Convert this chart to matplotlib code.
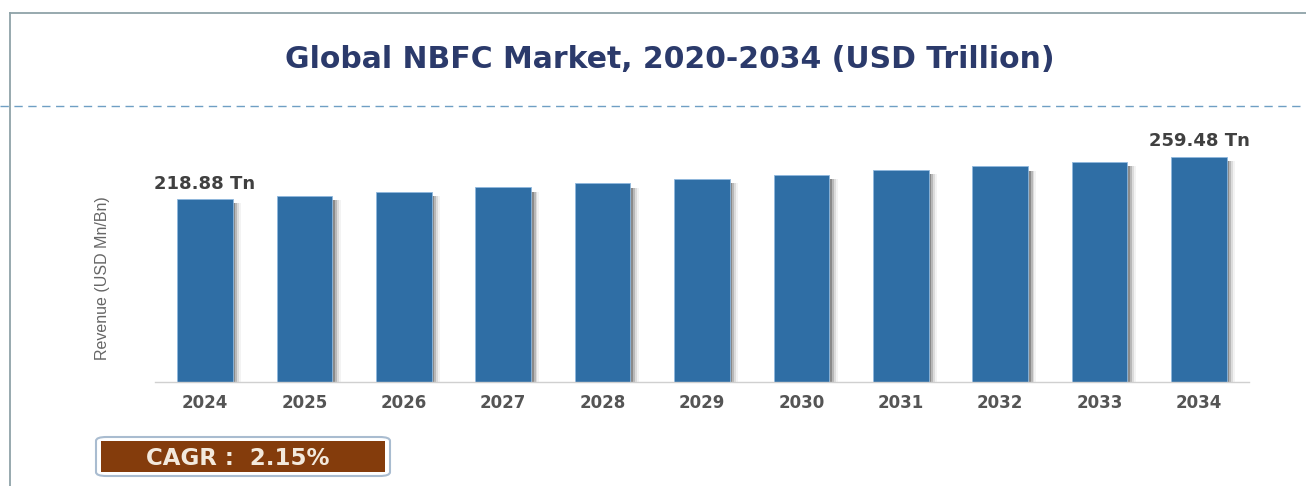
import matplotlib
matplotlib.use("Agg")
import matplotlib.pyplot as plt
from matplotlib.patches import FancyBboxPatch, Rectangle
from matplotlib.lines import Line2D

years = ["2024", "2025", "2026", "2027", "2028", "2029",
         "2030", "2031", "2032", "2033", "2034"]
revenue = [218.88, 222.3, 225.8, 230.3, 234.1, 238.5,
           242.3, 246.8, 250.3, 254.7, 259.48]
label_idx = [0, 10]
title = "Global NBFC Market, 2020-2034 (USD Trillion)"
ylabel = "Revenue (USD Mn/Bn)"
cagr_text = "CAGR :  2.15%"

W, H = 1306, 486
fig = plt.figure(figsize=(W / 100, H / 100), dpi=100)
fig.patch.set_facecolor("white")


def fx(px):
    return px / W


def fy(py):
    return 1 - py / H


# outer frame (left + top) and dashed separator
fig.add_artist(Line2D([fx(10), fx(10)], [fy(13), 0], color="#8fa3a8", lw=1.3))
fig.add_artist(Line2D([fx(10), 1], [fy(13), fy(13)], color="#8fa3a8", lw=1.3))
fig.add_artist(Line2D([0, 1], [fy(106), fy(106)], color="#6f9fc4", lw=1.0,
                      ls=(0, (6, 4))))

fig.text(fx(670), fy(59), title, ha="center", va="center", fontsize=21.5,
         fontweight="bold", color="#2b3a6b")

# bar axes
left, right, top, bottom = 155.3, 1248.7, 130, 381.7
ax = fig.add_axes([fx(left), fy(bottom), fx(right - left), (bottom - top) / H])
x = list(range(len(years)))
ymin = 45
ymax = ymin + (bottom - top) / 1.049
w = 0.56
# soft shadow to the right of each bar
for off, a in [(0.025, 0.35), (0.045, 0.22), (0.065, 0.12), (0.085, 0.06)]:
    ax.bar([i + off for i in x], [v - ymin - 4 for v in revenue], bottom=ymin,
           width=w, color="#3a3a3a", alpha=a, zorder=1, linewidth=0)
ax.bar(x, [v - ymin for v in revenue], bottom=ymin, width=w, color="#2f6ea5",
       edgecolor="#8fb8de", linewidth=0.6, zorder=2)
for i in label_idx:
    ax.annotate(f"{revenue[i]:.2f} Tn", (x[i], revenue[i]), xytext=(0, 11),
                textcoords="offset points", ha="center", va="center",
                fontsize=13, fontweight="bold", color="#404040")
ax.set_xlim(-0.5, len(years) - 0.5)
ax.set_ylim(ymin, ymax)
ax.set_xticks(x)
ax.set_xticklabels(years, fontsize=12, fontweight="bold", color="#555555")
ax.tick_params(axis="x", length=0, pad=9)
ax.set_yticks([])
for s in ["left", "right", "top"]:
    ax.spines[s].set_visible(False)
ax.spines["bottom"].set_color("#d0d0d0")
ax.spines["bottom"].set_linewidth(1.0)
ax.set_facecolor("none")

fig.text(fx(103), fy(278), ylabel, rotation=90, ha="center", va="center",
         fontsize=11.5, color="#666666",
         family=["Liberation Sans Narrow", "Liberation Sans", "DejaVu Sans"],
         fontstretch="condensed")

# CAGR badge
fig.add_artist(FancyBboxPatch((fx(96), fy(476)), fx(294), (476 - 437) / H,
                              boxstyle="round,pad=0,rounding_size=0.008",
                              transform=fig.transFigure, facecolor="white",
                              edgecolor="#a9bcd0", lw=1.5))
fig.add_artist(Rectangle((fx(101), fy(472)), fx(284), (472 - 441) / H,
                         transform=fig.transFigure, facecolor="#843c0c",
                         edgecolor="none"))
fig.text(fx(238), fy(458), cagr_text, ha="center", va="center", fontsize=16.5,
         fontweight="bold", color="#f3e9dc")

fig.savefig("out.png", dpi=100)
